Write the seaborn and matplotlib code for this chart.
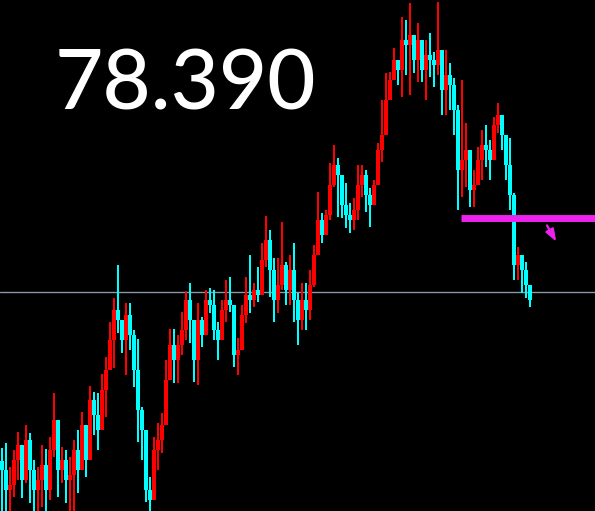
import matplotlib
matplotlib.use("Agg")
import matplotlib.pyplot as plt
import seaborn as sns
import numpy as np
import pandas as pd

# ---- data (price values) ----
highs = [76.83, 76.88, 76.64, 76.81, 76.99, 76.86, 77.06, 76.98, 76.71, 76.64,
         76.86, 76.82, 76.94, 77.38, 76.91, 76.84, 76.81, 76.74, 76.91, 77.01,
         77.19, 76.89, 77.45, 77.39, 77.38, 77.57, 77.74, 78.09, 78.33, 78.66,
         78.04, 78.28, 78.28, 78.01, 77.92, 77.24, 76.71, 76.54, 76.94, 77.08,
         77.18, 77.71, 78.02, 78.02, 77.96, 78.19, 78.40, 78.48, 78.11, 78.28,
         78.14, 78.41, 78.43, 78.41, 78.09, 78.31, 78.51, 78.54, 78.06, 77.93,
         78.26, 78.54, 78.76, 78.48, 78.64, 78.88, 79.15, 79.01, 78.73, 78.73,
         79.09, 78.69, 78.76, 78.88, 78.38, 78.48, 78.48, 78.61, 78.86, 79.39,
         79.18, 79.21, 79.68, 79.86, 79.73, 79.48, 79.48, 79.28, 79.33, 79.66,
         79.66, 79.61, 79.43, 79.51, 79.88, 80.31, 80.58, 80.59, 80.83, 80.71,
         81.14, 81.11, 81.28, 80.91, 81.08, 80.81, 80.91, 80.98, 80.79, 81.29,
         80.81, 80.81, 80.68, 80.53, 80.26, 80.51, 80.08, 79.66, 79.61, 79.84,
         80.01, 80.06, 79.91, 80.14, 80.28, 80.11, 79.89, 79.93, 79.38, 78.84,
         78.69, 78.69, 78.44]
lows = [76.16, 76.16, 76.16, 76.34, 76.51, 76.33, 76.48, 76.28, 76.16, 76.16,
        76.24, 76.16, 76.31, 76.74, 76.34, 76.48, 76.28, 76.16, 76.16, 76.38,
        76.71, 76.54, 76.81, 76.96, 76.81, 77.09, 77.14, 77.61, 77.63, 77.98,
        77.78, 77.56, 77.81, 77.44, 76.89, 76.71, 76.29, 76.16, 76.48, 76.61,
        76.78, 77.14, 77.61, 77.48, 77.48, 77.76, 77.91, 77.88, 77.49, 77.46,
        77.84, 78.01, 78.18, 77.91, 77.71, 78.06, 78.09, 78.19, 77.64, 77.56,
        77.88, 78.08, 78.18, 78.24, 78.29, 78.41, 78.64, 78.34, 78.09, 78.18,
        78.41, 78.26, 78.26, 78.09, 77.86, 78.01, 78.01, 78.11, 78.44, 78.88,
        78.88, 79.04, 79.11, 79.44, 79.14, 79.13, 79.03, 78.98, 79.01, 79.11,
        79.34, 79.19, 79.04, 79.29, 79.56, 79.69, 79.98, 80.34, 80.51, 80.46,
        80.34, 80.56, 80.36, 80.58, 80.49, 80.49, 80.31, 80.54, 80.44, 80.56,
        80.16, 80.16, 80.21, 79.96, 79.21, 79.34, 79.44, 79.24, 79.24, 79.48,
        79.51, 79.64, 79.51, 79.81, 79.98, 79.81, 79.51, 79.21, 78.51, 78.51,
        78.38, 78.33, 78.24]
closes = [76.61, 76.41, 76.46, 76.71, 76.86, 76.51, 76.91, 76.61, 76.41, 76.51,
          76.66, 76.41, 76.81, 77.11, 76.61, 76.71, 76.51, 76.56, 76.81, 76.61,
          77.06, 76.71, 77.31, 77.16, 77.01, 77.41, 77.61, 77.91, 78.21, 78.11,
          77.91, 78.16, 77.96, 77.61, 77.21, 77.01, 76.41, 76.31, 76.81, 76.91,
          77.06, 77.51, 77.86, 77.71, 77.86, 78.01, 78.31, 78.11, 77.71, 78.11,
          77.96, 78.31, 78.26, 78.01, 77.91, 78.21, 78.31, 78.26, 77.76, 77.81,
          78.16, 78.36, 78.31, 78.41, 78.36, 78.71, 78.91, 78.61, 78.31, 78.46,
          78.66, 78.41, 78.61, 78.31, 78.11, 78.31, 78.21, 78.46, 78.76, 79.11,
          78.96, 79.16, 79.46, 79.66, 79.56, 79.26, 79.16, 79.11, 79.21, 79.46,
          79.56, 79.36, 79.26, 79.46, 79.81, 79.96, 80.31, 80.51, 80.71, 80.61,
          80.91, 80.86, 80.96, 80.71, 80.91, 80.61, 80.76, 80.71, 80.66, 80.81,
          80.41, 80.56, 80.46, 80.21, 79.61, 79.71, 79.81, 79.41, 79.46, 79.71,
          79.86, 79.81, 79.71, 80.06, 80.16, 79.96, 79.66, 79.36, 78.66, 78.76,
          78.61, 78.46, 78.31]
first_open = 76.70
current_price = 78.39
current_label = "78.390"
resistance_level = 79.13

opens = [first_open] + closes[:-1]
df = pd.DataFrame({"open": opens, "high": highs, "low": lows, "close": closes})
df["idx"] = np.arange(len(df))
df["up"] = df["close"] >= df["open"]

RED = "#ff0000"
CYAN = "#00ffff"
MAGENTA = "#ee22ee"

sns.set_theme(style="dark", rc={"axes.facecolor": "black", "figure.facecolor": "black"})
plt.rcParams["font.family"] = ["Lato", "DejaVu Sans"]

fig = plt.figure(figsize=(5.95, 5.11), dpi=100)
ax = fig.add_axes([0, 0, 1, 1])
ax.set_facecolor("black")

colors = np.where(df["up"], RED, CYAN)

# reference horizontal line
ax.axhline(current_price, color="#8898a8", lw=1.0, zorder=1)

# wicks
ax.vlines(df["idx"], df["low"], df["high"], colors=colors, lw=1.2, zorder=2,
          antialiased=False)
# bodies
bottoms = np.minimum(df["open"], df["close"])
heights = np.abs(df["close"] - df["open"]).clip(lower=0.02)
ax.bar(df["idx"], heights, bottom=bottoms, width=0.85, color=colors,
       linewidth=0, zorder=3, antialiased=False)

# magenta level line
ax.hlines(resistance_level, 114.75, 148.25, colors=MAGENTA, lw=5.0, zorder=4)
# small magenta arrow
ax.annotate("", xy=(138.9, 78.87), xytext=(135.9, 79.08),
            arrowprops=dict(arrowstyle="-|>,head_length=0.6,head_width=0.22",
                            color=MAGENTA, lw=1.6), zorder=5)

ax.set_xlim(-0.5, 148.25)
ax.set_ylim(76.20, 81.31)
ax.set_xticks([])
ax.set_yticks([])
for s in ax.spines.values():
    s.set_visible(False)

fig.text(55 / 595, 1 - 110 / 511, current_label, color="white",
         fontsize=60, fontweight="medium", ha="left", va="baseline",
         family=["Lato", "DejaVu Sans"])

fig.savefig("out.png", dpi=100, facecolor="black")
